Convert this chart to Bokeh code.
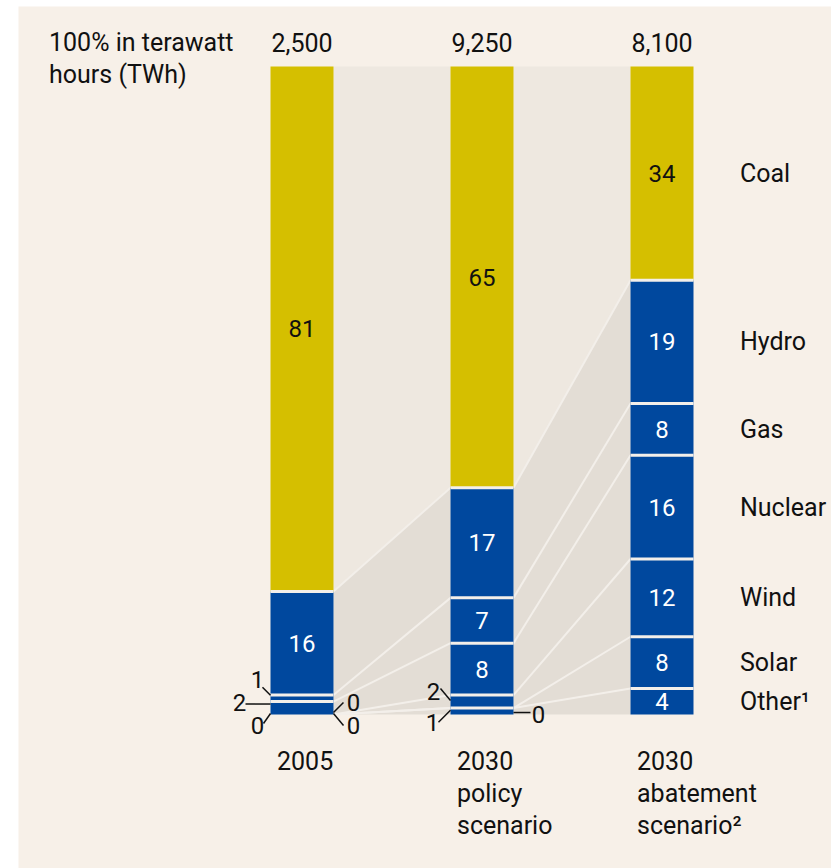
import numpy as np
from bokeh.plotting import figure
from bokeh.models import ColumnDataSource, Range1d
from bokeh.core.properties import value
from bokeh.embed import file_html
from bokeh.resources import INLINE

# ---------------- data ----------------
categories = ["Coal", "Hydro", "Gas", "Nuclear", "Wind", "Solar", "Other"]
category_labels = ["Coal", "Hydro", "Gas", "Nuclear", "Wind", "Solar", "Other\u00b9"]
scenario_labels = ["2005", "2030\npolicy\nscenario", "2030\nabatement\nscenario\u00b2"]
totals_twh = ["2,500", "9,250", "8,100"]
share_2005 = [81, 16, 1, 2, 0, 0, 0]
share_policy = [65, 17, 7, 8, 2, 0, 1]
share_abatement = [34, 19, 8, 16, 12, 8, 4]
shares = [share_2005, share_policy, share_abatement]
header_lines = ["100% in terawatt", "hours (TWh)"]

# ---------------- style / layout ----------------
FONT = value("Roboto")
YELLOW = "#D5BF00"
BLUE = "#00489E"
BG = "#F7F0E8"
COAL_BAND = "#EEE8E0"
REST_BAND = "#E3DDD5"
GAP = "#F3EFEA"
PXX = 180.0   # px per scenario step
PXY = 6.48    # px per percent
HALF = 0.175  # half bar width in x units

def ddx(px):
    return px / PXX

def ddy(px):
    return -px / PXY

p = figure(width=831, height=868,
           x_range=Range1d(-1.575, 2.9417), y_range=Range1d(-23.765, 109.259),
           output_backend="svg", toolbar_location=None,
           x_axis_location=None, y_axis_location=None,
           min_border_left=18, min_border_right=0, min_border_top=6, min_border_bottom=0)
p.grid.visible = False
p.outline_line_color = None
p.background_fill_color = BG
p.border_fill_color = "white"

# stacks (bottom-up order: Other ... Coal)
stacks = []
for s in shares:
    rev = np.array(s[::-1], dtype=float)
    cum = np.cumsum(rev)
    bottoms = np.concatenate([[0.0], cum[:-1]])
    tops = np.minimum(cum, 100.0)
    tops[-1] = 100.0
    stacks.append((rev, bottoms, tops))
cats_bu = categories[::-1]

# connector bands and lines
for i in range(len(shares) - 1):
    xr = i + HALF
    xl = i + 1 - HALF
    cb0 = stacks[i][1][-1]
    cb1 = stacks[i + 1][1][-1]
    p.patch([xr, xl, xl, xr], [100, 100, cb1, cb0], fill_color=COAL_BAND, line_color=None)
    p.patch([xr, xl, xl, xr], [cb0, cb1, 0, 0], fill_color=REST_BAND, line_color=None)
    b0 = stacks[i][1][1:]
    b1 = stacks[i + 1][1][1:]
    p.segment(x0=[xr] * len(b0), y0=list(b0), x1=[xl] * len(b1), y1=list(b1),
              line_color=GAP, line_width=2)

# bar segments
q = dict(left=[], right=[], bottom=[], top=[], color=[])
sep = dict(x0=[], x1=[], y=[])
for i, (vals, bots, tops) in enumerate(stacks):
    for k in range(len(vals)):
        if tops[k] > bots[k]:
            q["left"].append(i - HALF)
            q["right"].append(i + HALF)
            q["bottom"].append(bots[k])
            q["top"].append(tops[k])
            q["color"].append(YELLOW if cats_bu[k] == "Coal" else BLUE)
    for b in sorted(set(b for b in bots[1:] if 0 < b < 100)):
        sep["x0"].append(i - HALF)
        sep["x1"].append(i + HALF)
        sep["y"].append(b)
p.quad(source=ColumnDataSource(q), left="left", right="right", bottom="bottom", top="top",
       fill_color="color", line_color=None)
p.segment(x0=sep["x0"], y0=sep["y"], x1=sep["x1"], y1=sep["y"], line_color=GAP, line_width=3)

# inline value labels
lab = dict(x=[], y=[], text=[], color=[])
for i, (vals, bots, tops) in enumerate(stacks):
    for k in range(len(vals)):
        if vals[k] >= 3:
            lab["x"].append(i)
            lab["y"].append((bots[k] + tops[k]) / 2)
            lab["text"].append(str(int(vals[k])))
            lab["color"].append("#111111" if cats_bu[k] == "Coal" else "white")
p.text(source=ColumnDataSource(lab), x="x", y="y", text="text", text_color="color",
       text_font=FONT, text_font_size="24px", text_align="center", text_baseline="middle")

# leader labels for small shares: (scenario, category, side, start_dy, end_dx, end_dy, lab_dx, lab_dy)
leaders = [
    (0, "Gas", -1, -3, -8, -11, -13, -19),
    (0, "Nuclear", -1, -4, -25, -4, -31, -6),
    (0, "Other", -1, -1, -7, 9, -13, 11),
    (0, "Wind", 1, -2, 10, -12, 20, -12),
    (0, "Solar", 1, -1, 10, 11, 20, 11),
    (1, "Wind", -1, -1, -10, -13, -17, -10),
    (1, "Other", -1, -1, -12, 11, -18, 11),
    (1, "Solar", 1, 4.5, 17, 4.5, 25, 6),
]
ld = dict(x0=[], y0=[], x1=[], y1=[])
ll = dict(x=[], y=[], text=[], xo=[], yo=[])
for (i, cat, side, sdy, edx, edy, lx, ly) in leaders:
    vals, bots, tops = stacks[i]
    k = cats_bu.index(cat)
    ax = i + side * HALF
    ay = (bots[k] + tops[k]) / 2
    ld["x0"].append(ax)
    ld["y0"].append(ay + ddy(sdy))
    ld["x1"].append(ax + ddx(edx))
    ld["y1"].append(ay + ddy(edy))
    ll["x"].append(ax)
    ll["y"].append(ay)
    ll["text"].append(str(int(vals[k])))
    ll["xo"].append(lx)
    ll["yo"].append(ly)
p.segment(source=ColumnDataSource(ld), x0="x0", y0="y0", x1="x1", y1="y1",
          line_color="#111111", line_width=1.5)
p.text(source=ColumnDataSource(ll), x="x", y="y", text="text", x_offset="xo", y_offset="yo",
       text_font=FONT, text_font_size="24px", text_align="center", text_baseline="middle",
       text_color="#111111")

# totals above bars
p.text(x=list(range(3)), y=[100] * 3, text=totals_twh, y_offset=-24,
       text_font=FONT, text_font_size="25px", text_align="center", text_baseline="middle",
       text_color="#111111")

# header
p.text(x=[0] * len(header_lines), y=[100] * len(header_lines), text=header_lines,
       x_offset=-253, y_offset=[-24 + 32 * j for j in range(len(header_lines))],
       text_font=FONT, text_font_size="25px", text_align="left", text_baseline="middle",
       text_color="#111111")

# category labels to the right of last bar
vals, bots, tops = stacks[2]
p.text(x=[2] * len(cats_bu), y=list((bots + tops) / 2), text=category_labels[::-1],
       x_offset=78, text_font=FONT, text_font_size="25px", text_align="left",
       text_baseline="middle", text_color="#111111")

# scenario labels below bars
sl = dict(x=[], y=[], text=[], yo=[])
for i, lbl in enumerate(scenario_labels):
    for j, line in enumerate(lbl.split("\n")):
        sl["x"].append(i)
        sl["y"].append(0)
        sl["text"].append(line)
        sl["yo"].append(46 + 32.5 * j)
p.text(source=ColumnDataSource(sl), x="x", y="y", text="text", y_offset="yo", x_offset=-25,
       text_font=FONT, text_font_size="25px", text_align="left", text_baseline="middle",
       text_color="#111111")

open("out.html", "w").write(file_html(p, INLINE))
